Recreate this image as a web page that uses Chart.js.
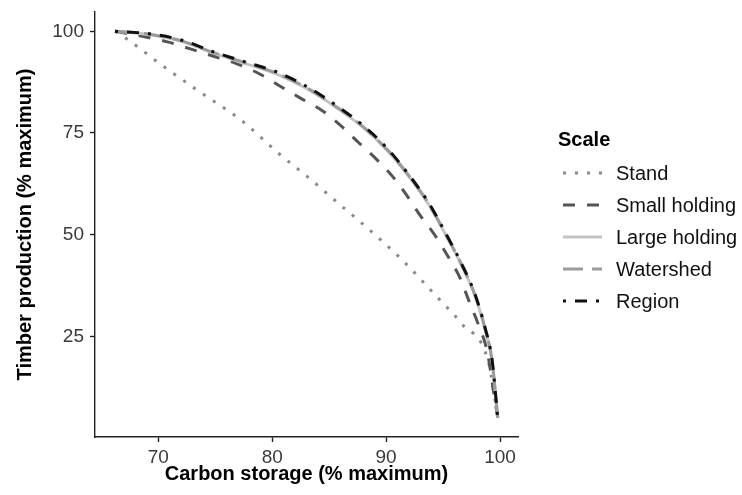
<!DOCTYPE html>
<html><head><meta charset="utf-8">
<script src="https://cdn.jsdelivr.net/npm/chart.js@4.4.1/dist/chart.umd.min.js"></script>
<style>html,body{margin:0;padding:0;background:#fff}</style>
</head><body>
<canvas id="c" width="742" height="495"></canvas>
<script>
// ---- data ----
const seriesNames = ['Stand', 'Small holding', 'Large holding', 'Watershed', 'Region'];
const legendTitle = 'Scale';
const xTitle = 'Carbon storage (% maximum)';
const yTitle = 'Timber production (% maximum)';

const standX = [66.2, 67, 70.2, 73.8, 77.3, 80.6, 83.2, 85.6, 88.2, 91.3, 94.3, 96.6, 99.0, 99.8];
const standY = [100, 98.6, 91.9, 84.8, 78.1, 69.9, 64.0, 58.2, 52.0, 44.1, 35.2, 28.2, 18.5, 5];

const smallX = [66.2, 68.7, 70.8, 72.8, 74.7, 76.9, 78.9, 80.7, 82.4, 84.5, 86.1, 87.6, 89.2, 90.6, 91.8, 93.0, 94.3, 95.4, 96.5, 97.3, 98.1, 98.9, 99.4, 99.8];
const smallY = [100, 98.7, 97.4, 95.7, 94.0, 92.0, 89.5, 86.5, 83.7, 80.3, 76.6, 72.6, 68.4, 64.2, 59.7, 54.7, 49.8, 44.8, 39.3, 33.5, 27.9, 21.0, 12.0, 5];

const largeX = [66.2, 69.2, 72.1, 74.8, 77.6, 80.4, 83.1, 85.7, 88.0, 90.2, 92.0, 93.7, 95.2, 96.6, 97.8, 98.7, 99.3, 99.8];
const largeY = [100, 99.2, 97.5, 94.7, 92.1, 89.5, 85.8, 81.1, 76.3, 70.4, 64.3, 57.6, 50.1, 42.6, 35.0, 26.6, 19.0, 5];

const watershedX = [66.2, 69.2, 72.1, 74.8, 77.6, 80.4, 83.1, 85.7, 88.0, 90.2, 92.0, 93.7, 95.2, 96.6, 97.8, 98.7, 99.3, 99.8];
const watershedY = [100, 99.3, 97.6, 94.8, 92.3, 89.7, 86.0, 81.3, 76.5, 70.6, 64.5, 57.8, 50.3, 42.8, 35.2, 26.8, 19.1, 5];

const regionX = [66.2, 69.2, 72.1, 74.8, 77.6, 80.4, 83.1, 85.7, 88.0, 90.2, 92.0, 93.7, 95.2, 96.6, 97.8, 98.7, 99.3, 99.8];
const regionY = [100, 99.4, 97.8, 95.0, 92.5, 90.0, 86.3, 81.6, 76.8, 70.9, 64.7, 58.0, 50.5, 43.0, 35.4, 27.0, 19.3, 5];

const xTicks = [70, 80, 90, 100];
const yTicks = [25, 50, 75, 100];
const xLimits = [64.44, 101.58];
const yLimits = [0.25, 104.75];

// ---- styling ----
const styles = [
  { color: '#8a8a8a', dash: [3, 9], order: 4 },
  { color: '#555555', dash: [12, 12], order: 3 },
  { color: '#c4c4c4', dash: [], order: 2 },
  { color: '#9b9b9b', dash: [20, 9], order: 1 },
  { color: '#111111', dash: [3, 9, 12, 9], order: 0 }
];
const allX = [standX, smallX, largeX, watershedX, regionX];
const allY = [standY, smallY, largeY, watershedY, regionY];

const toPoints = (xs, ys) => xs.map((x, i) => ({ x: x, y: ys[i] }));

const datasets = seriesNames.map((name, i) => ({
  label: name,
  data: toPoints(allX[i], allY[i]),
  borderColor: styles[i].color,
  borderDash: styles[i].dash,
  borderWidth: 3,
  borderCapStyle: 'butt',
  pointRadius: 0,
  fill: false,
  cubicInterpolationMode: 'monotone',
  order: styles[i].order
}));

const FONT = '"Liberation Sans", Arial, Helvetica, sans-serif';

const sideLegend = {
  id: 'sideLegend',
  afterDraw(chart) {
    const ctx = chart.ctx;
    const x0 = chart.chartArea.right + 45;
    ctx.save();
    ctx.textAlign = 'left';
    ctx.textBaseline = 'middle';
    ctx.fillStyle = '#000';
    ctx.font = 'bold 20px ' + FONT;
    ctx.fillText(legendTitle, x0 - 5, 140);
    ctx.font = '20px ' + FONT;
    chart.data.datasets.forEach((ds, i) => {
      const y = 173 + 32 * i;
      ctx.save();
      ctx.strokeStyle = ds.borderColor;
      ctx.lineWidth = ds.borderWidth;
      ctx.lineCap = ds.borderCapStyle;
      ctx.setLineDash(ds.borderDash);
      ctx.beginPath();
      ctx.moveTo(x0, y);
      ctx.lineTo(x0 + 39, y);
      ctx.stroke();
      ctx.restore();
      ctx.fillStyle = '#111';
      ctx.fillText(ds.label, x0 + 53, y + 1);
    });
    ctx.restore();
  }
};

new Chart(document.getElementById('c'), {
  type: 'line',
  data: { datasets: datasets },
  options: {
    responsive: false,
    animation: false,
    devicePixelRatio: 1,
    layout: { padding: { left: 0, top: 12, right: 224, bottom: 0 } },
    plugins: { legend: { display: false }, tooltip: { enabled: false } },
    scales: {
      x: {
        type: 'linear',
        min: xLimits[0], max: xLimits[1],
        afterBuildTicks: s => { s.ticks = xTicks.map(v => ({ value: v })); },
        afterFit: s => { s.height = 58; s.paddingLeft = 0; s.paddingRight = 0; },
        grid: { drawOnChartArea: false, drawTicks: true, tickLength: 5, tickColor: '#222', tickWidth: 1.4 },
        border: { display: true, color: '#222', width: 1.4 },
        ticks: { font: { family: FONT, size: 19 }, color: '#3a3a3a', padding: 4, maxRotation: 0 },
        title: { display: true, text: xTitle, color: '#000', font: { family: FONT, size: 20, weight: 'bold' }, padding: { top: 0, bottom: 9 } }
      },
      y: {
        type: 'linear',
        min: yLimits[0], max: yLimits[1],
        afterBuildTicks: s => { s.ticks = yTicks.map(v => ({ value: v })); },
        afterFit: s => { s.width = 95; s.paddingTop = 0; s.paddingBottom = 0; },
        grid: { drawOnChartArea: false, drawTicks: true, tickLength: 5, tickColor: '#222', tickWidth: 1.4 },
        border: { display: true, color: '#222', width: 1.4 },
        ticks: { font: { family: FONT, size: 19 }, color: '#3a3a3a', padding: 6 },
        title: { display: true, text: yTitle, color: '#000', font: { family: FONT, size: 20, weight: 'bold' }, padding: { top: 13, bottom: 0 } }
      }
    }
  },
  plugins: [sideLegend]
});
</script>
</body></html>
